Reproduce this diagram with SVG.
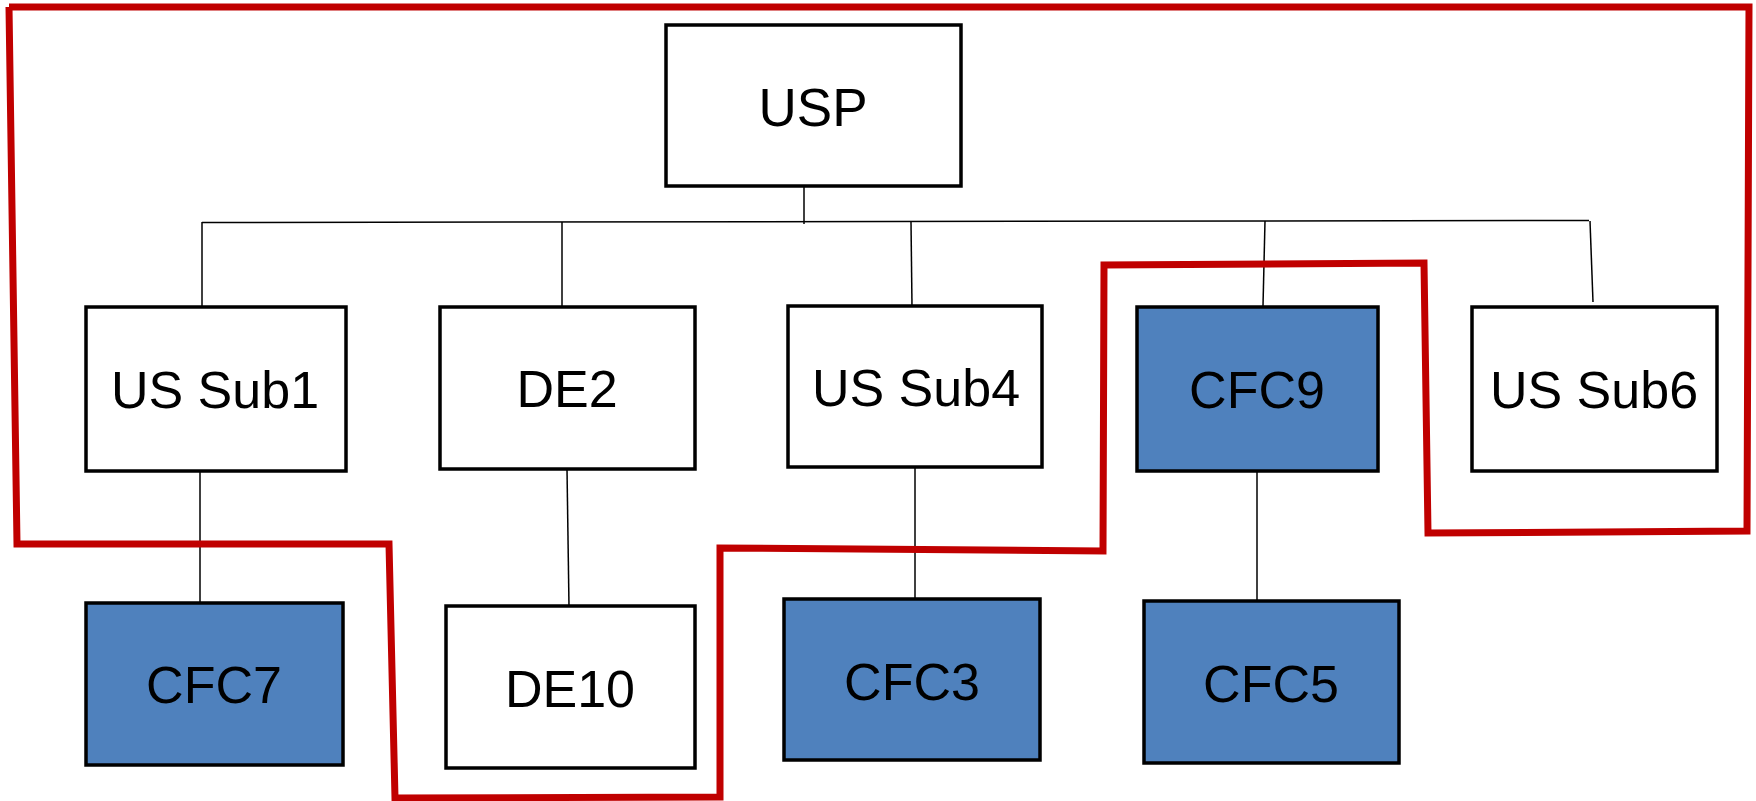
<svg xmlns="http://www.w3.org/2000/svg" width="1756" height="801" viewBox="0 0 1756 801">
<style>
.box{stroke:#000;stroke-width:3.5;fill:#fff}
.cfc{stroke:#000;stroke-width:3.5;fill:#4F81BD}
.lbl{font-family:"Liberation Sans",Arial,sans-serif;font-size:52px;fill:#000;text-anchor:middle}
.ln{stroke:#000;stroke-width:1.5;fill:none}
.red{stroke:#C00000;stroke-width:7;fill:none;stroke-linejoin:miter}
</style>
<g id="connectors">
<line class="ln" x1="804" y1="187" x2="804" y2="224"/>
<line class="ln" x1="202" y1="222.5" x2="1589" y2="220.5"/>
<line class="ln" x1="202" y1="222" x2="202" y2="306"/>
<line class="ln" x1="562" y1="222" x2="562" y2="306"/>
<line class="ln" x1="911" y1="222" x2="912" y2="306"/>
<line class="ln" x1="1265" y1="221" x2="1263" y2="306"/>
<line class="ln" x1="1590" y1="221" x2="1593" y2="302"/>
<line class="ln" x1="200" y1="472" x2="200" y2="603"/>
<line class="ln" x1="567" y1="469" x2="569" y2="606"/>
<line class="ln" x1="915" y1="467" x2="915" y2="599"/>
<line class="ln" x1="1257" y1="471" x2="1257" y2="601"/>
</g>
<g id="USP"><rect class="box" x="666" y="25" width="295" height="161"/><text class="lbl" x="813" y="126" style="font-size:53px">USP</text></g>
<g id="USSub1"><rect class="box" x="86" y="307" width="260" height="164"/><text class="lbl" x="215" y="408">US Sub1</text></g>
<g id="DE2"><rect class="box" x="440" y="307" width="255" height="162"/><text class="lbl" x="567" y="407">DE2</text></g>
<g id="USSub4"><rect class="box" x="788" y="306" width="254" height="161"/><text class="lbl" x="916" y="406">US Sub4</text></g>
<g id="CFC9"><rect class="cfc" x="1137" y="307" width="241" height="164"/><text class="lbl" x="1257" y="408">CFC9</text></g>
<g id="USSub6"><rect class="box" x="1472" y="307" width="245" height="164"/><text class="lbl" x="1594" y="408">US Sub6</text></g>
<g id="CFC7"><rect class="cfc" x="86" y="603" width="257" height="162"/><text class="lbl" x="214" y="703">CFC7</text></g>
<g id="DE10"><rect class="box" x="446" y="606" width="249" height="162"/><text class="lbl" x="570" y="707">DE10</text></g>
<g id="CFC3"><rect class="cfc" x="784" y="599" width="256" height="161"/><text class="lbl" x="912" y="700">CFC3</text></g>
<g id="CFC5"><rect class="cfc" x="1144" y="601" width="255" height="162"/><text class="lbl" x="1271" y="702">CFC5</text></g>
<g id="boundary">
<polyline class="red" points="9,7 1749,7 1747,531 1428,533 1424,263 1104,265 1103,551 720,548 720,797 395,798 389,544 17,544 9,7"/>
</g>
</svg>
